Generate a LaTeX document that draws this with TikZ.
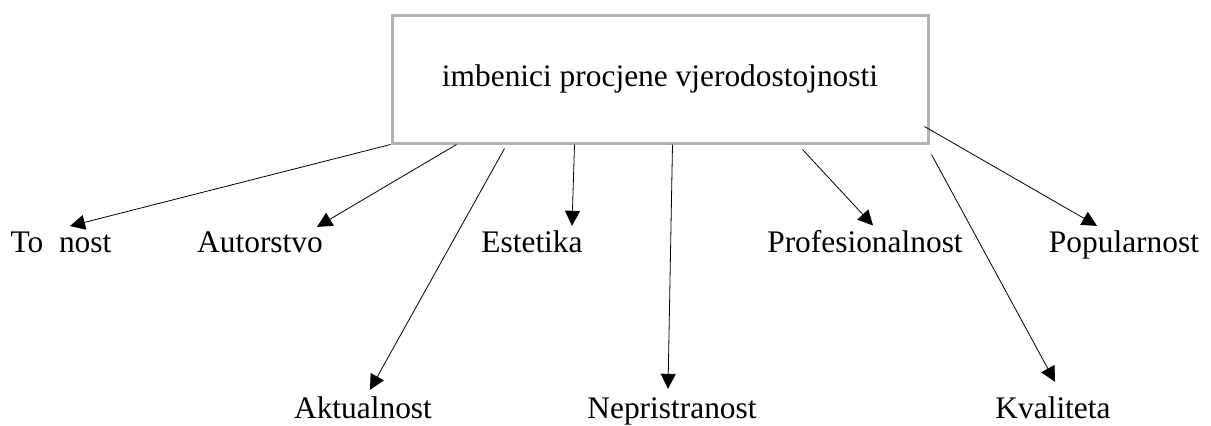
\documentclass[tikz,border=0pt]{standalone}
\usepackage{fontspec}
\setmainfont{Liberation Serif}
\usepackage{tikz}
\usetikzlibrary{arrows.meta,positioning}
\usepackage{xcolor}
\definecolor{boxgray}{RGB}{178,178,178}
\tikzstyle{arrow} = [thin,-{Triangle[length=7.5pt,width=7.5pt]},color=black]
\tikzstyle{critbox} = [rectangle, minimum width=268pt, minimum height=64pt, text centered, draw=boxgray, line width=1.5pt, font=\fontsize{15.7}{19}\selectfont]
\tikzstyle{critlabel} = [anchor=base, inner sep=2pt, font=\fontsize{15.7}{19}\selectfont]

\begin{document}
\begin{tikzpicture}[x=0.5pt,y=-0.5pt]
\useasboundingbox (0,0) rectangle (1211,425);

% Main box
\node[critbox] (box) at (660,79) {imbenici procjene vjerodostojnosti};

% Upper row
\node[critlabel] (tocnost) at (61,252) {To\enspace nost};
\node[critlabel] (autor) at (260,252) {Autorstvo};
\node[critlabel] (estetika) at (532,252) {Estetika};
\node[critlabel] (profes) at (865,252) {Profesionalnost};
\node[critlabel] (popular) at (1124,252) {Popularnost};

% Lower row
\node[critlabel] (aktual) at (363,418) {Aktualnost};
\node[critlabel] (nepris) at (672,418) {Nepristranost};
\node[critlabel] (kval) at (1053,418) {Kvaliteta};

% Arrows
\draw[arrow] (box.south west) -- ([xshift=4.5pt,yshift=0.5pt]tocnost.north);
\draw[arrow] ([xshift=33pt]box.south west) -- ([xshift=28.5pt]autor.north);
\draw[arrow] ([xshift=57pt,yshift=-2pt]box.south west) -- ([xshift=3.5pt,yshift=1pt]aktual.north);
\draw[arrow] ([xshift=92pt]box.south west) -- ([xshift=20pt]estetika.north);
\draw[arrow] ([xshift=141pt]box.south west) -- ([xshift=-2pt,yshift=2pt]nepris.north);
\draw[arrow] ([xshift=206pt,yshift=-2.5pt]box.south west) -- ([xshift=4pt]profes.north);
\draw[arrow] ([xshift=1pt,yshift=-5pt]box.south east) -- ([xshift=1pt,yshift=5pt]kval.north);
\draw[arrow] ([xshift=-2.5pt,yshift=9pt]box.south east) -- ([xshift=-13.5pt]popular.north);
\end{tikzpicture}
\end{document}
